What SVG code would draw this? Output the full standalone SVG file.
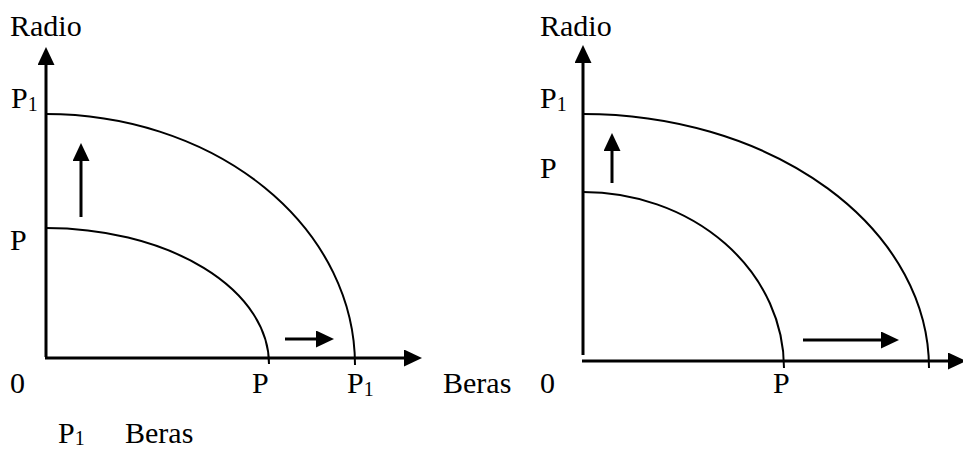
<svg xmlns="http://www.w3.org/2000/svg" width="963" height="451" viewBox="0 0 963 451">
<style>
text{font-family:"Liberation Serif","Times New Roman",serif;font-size:30px;fill:#000}
.sub{font-size:20px}
.axis{stroke:#000;stroke-width:3;fill:none}
.curve{stroke:#000;stroke-width:2;fill:none}
.arr{stroke:#000;stroke-width:3;fill:none}
</style>
<defs>
<marker id="ah" markerUnits="userSpaceOnUse" markerWidth="20" markerHeight="18" viewBox="0 0 20 18" refX="1" refY="8.5" orient="auto">
<path d="M0,0 L18,8.5 L0,17 Z" fill="#000"/>
</marker>
</defs>
<g id="left-graph">
<g id="left-axes">
<line class="axis" x1="46" y1="357" x2="46" y2="64" marker-end="url(#ah)"/>
<line class="axis" x1="45" y1="358" x2="405" y2="358" marker-end="url(#ah)"/>
</g>
<g id="left-curves">
<path class="curve" d="M46,114 A309,251 0 0 1 355,365"/>
<path class="curve" d="M46,228 A223,136 0 0 1 269,364"/>
</g>
<g id="left-arrows">
<line class="arr" x1="81" y1="217" x2="81" y2="160" marker-end="url(#ah)"/>
<line class="arr" x1="285" y1="339" x2="317" y2="339" marker-end="url(#ah)"/>
</g>
<g id="left-labels">
<text x="10" y="36">Radio</text>
<text x="11" y="108">P<tspan class="sub" dy="3">1</tspan></text>
<text x="10" y="250">P</text>
<text x="10" y="393">0</text>
<text x="252" y="393">P</text>
<text x="347" y="393">P<tspan class="sub" dy="3">1</tspan></text>
<text x="443" y="393">Beras</text>
<text x="58" y="443">P<tspan class="sub" dy="2">1</tspan></text>
<text x="125" y="443">Beras</text>
</g>
</g>
<g id="right-graph">
<g id="right-axes">
<line class="axis" x1="583" y1="355" x2="583" y2="62" marker-end="url(#ah)"/>
<line class="axis" x1="582" y1="361" x2="949" y2="361" marker-end="url(#ah)"/>
</g>
<g id="right-curves">
<path class="curve" d="M583,114 A346,254 0 0 1 929,368"/>
<path class="curve" d="M583,192 A201,176 0 0 1 784,368"/>
</g>
<g id="right-arrows">
<line class="arr" x1="612" y1="183" x2="612" y2="150" marker-end="url(#ah)"/>
<line class="arr" x1="803" y1="340" x2="882" y2="340" marker-end="url(#ah)"/>
</g>
<g id="right-labels">
<text x="540" y="36">Radio</text>
<text x="540" y="108">P<tspan class="sub" dy="3">1</tspan></text>
<text x="540" y="178">P</text>
<text x="540" y="393">0</text>
<text x="773" y="393">P</text>
</g>
</g>
</svg>
